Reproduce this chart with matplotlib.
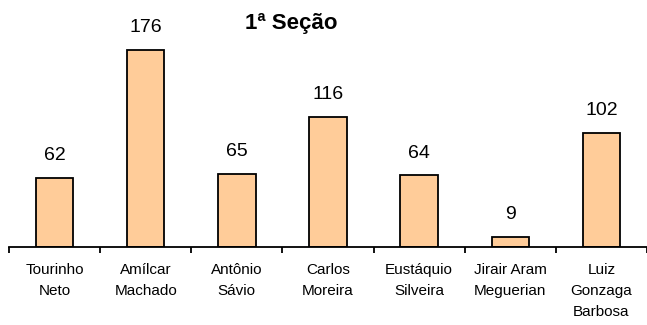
import matplotlib
matplotlib.use("Agg")
import matplotlib.pyplot as plt

plt.rcParams['font.family'] = ['Liberation Sans', 'DejaVu Sans']

candidates = ["Tourinho\nNeto", "Amílcar\nMachado", "Antônio\nSávio", "Carlos\nMoreira",
              "Eustáquio\nSilveira", "Jirair Aram\nMeguerian", "Luiz\nGonzaga\nBarbosa"]
votes = [62, 176, 65, 116, 64, 9, 102]
title = "1ª Seção"

W, H = 647, 325
fig = plt.figure(figsize=(W / 100, H / 100), dpi=100)
ax = fig.add_axes([9 / W, (H - 247.3) / H, 638 / W, 224.5 / H])

x = list(range(len(votes)))
bars = ax.bar(x, votes, width=0.41, color="#FFCC99", edgecolor="black", linewidth=1.3, zorder=2)

ax.set_xlim(-0.5, len(votes) - 0.5)
ax.set_ylim(0, 200)

for b, v in zip(bars, votes):
    ax.annotate(str(v), (b.get_x() + b.get_width() / 2, v), xytext=(0, 10),
                textcoords="offset points", ha="center", va="bottom", fontsize=14)

for s in ("top", "right", "left"):
    ax.spines[s].set_visible(False)
ax.spines["bottom"].set_linewidth(1.3)
ax.set_yticks([])

ax.set_xticks([i - 0.5 for i in range(len(votes) + 1)])
ax.set_xticklabels([])
ax.tick_params(axis="x", direction="out", length=4, width=1.3)
ax.set_xticks(x, minor=True)
ax.set_xticklabels(candidates, minor=True, fontsize=11, linespacing=1.65, va="top")
ax.tick_params(axis="x", which="minor", length=0, pad=11)

fig.text(291 / W, 1 - 24 / H, title, ha="center", va="center", fontsize=16, fontweight="bold")

fig.savefig("out.png", dpi=100)
